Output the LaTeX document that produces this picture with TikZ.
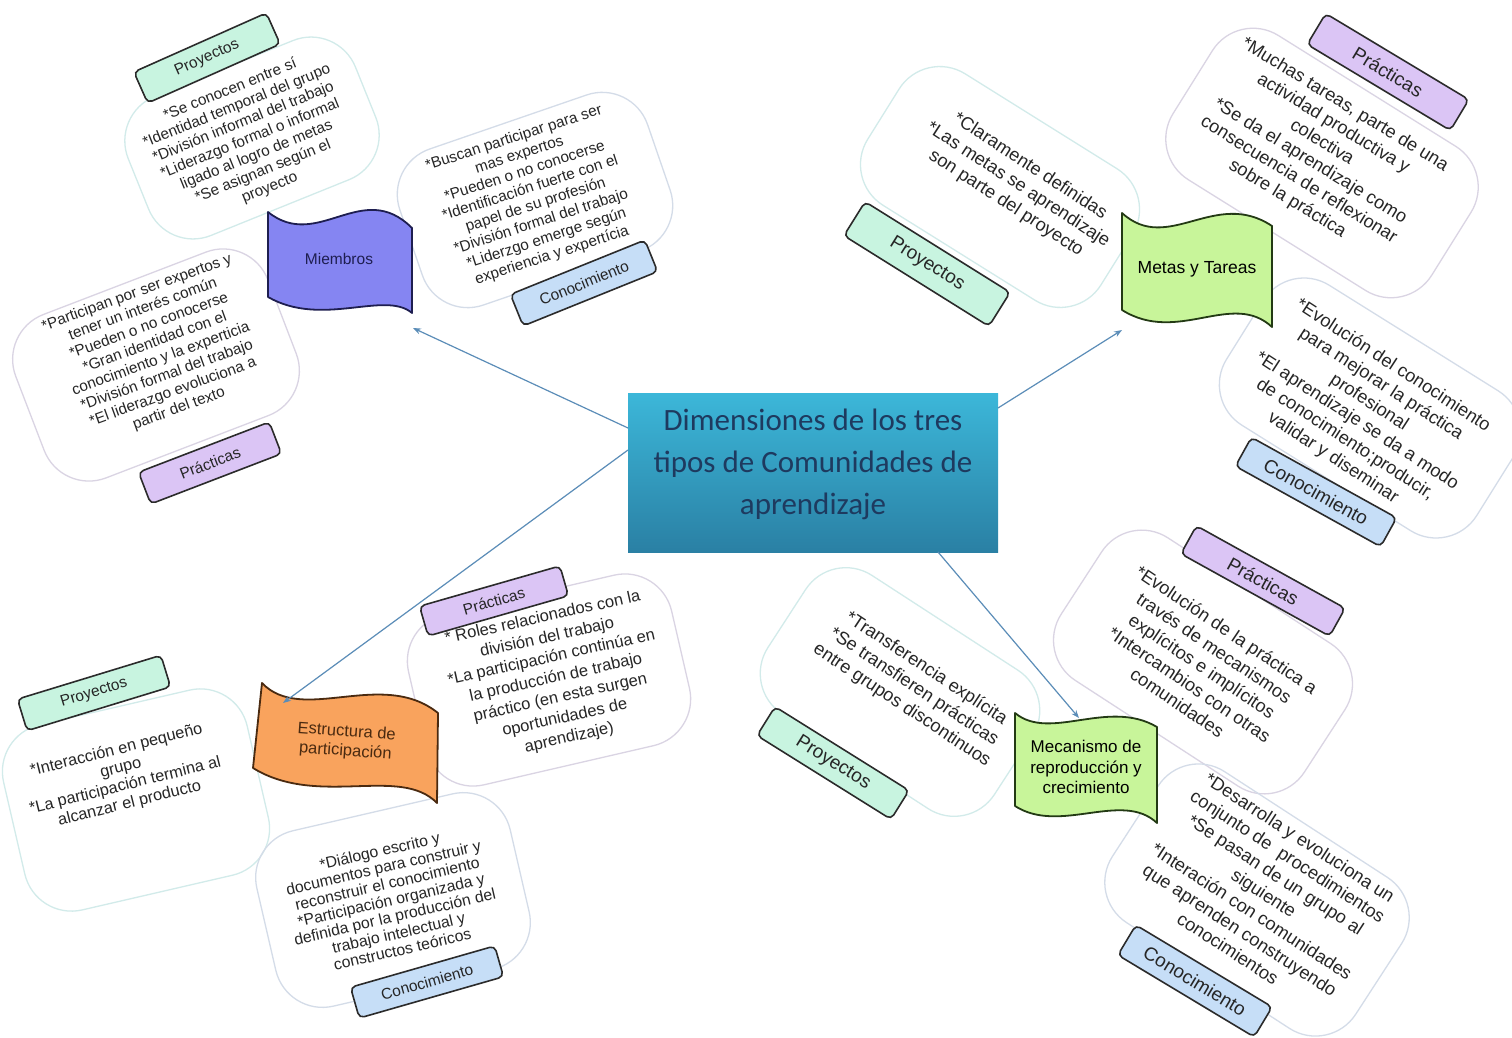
\documentclass[tikz,border=0pt]{standalone}
\usepackage{fontspec}
\setmainfont{Liberation Sans}
\newfontfamily\calibfont{Carlito}
\usetikzlibrary{arrows.meta}
\definecolor{cProy}{HTML}{C8F4E0}
\definecolor{cPrac}{HTML}{DBC5F5}
\definecolor{cCono}{HTML}{C6DEF7}
\definecolor{oProy}{HTML}{D2EBEA}
\definecolor{oPrac}{HTML}{DAD4E3}
\definecolor{oCono}{HTML}{D4DCE8}
\definecolor{cLabDraw}{HTML}{2B2B2B}
\definecolor{cTxt}{HTML}{262626}
\definecolor{cArrow}{HTML}{5B8DB8}
\definecolor{cTitle}{HTML}{1E3A5F}
\definecolor{cBoxTop}{HTML}{3CB7D9}
\definecolor{cBoxBot}{HTML}{2A80A4}
\definecolor{cMiem}{HTML}{8585F2}
\definecolor{cMiemD}{HTML}{1E1E50}
\definecolor{cGreen}{HTML}{C8F59A}
\definecolor{cGreenD}{HTML}{233A14}
\definecolor{cOrange}{HTML}{F9A35D}
\definecolor{cOrangeD}{HTML}{4A2A10}
\newcommand\myfl{\fontsize{15.3}{17.6}\selectfont}
\newcommand\myfb{\fontsize{16.3}{18.3}\selectfont}
\newcommand\myfr{\fontsize{18.2}{22}\selectfont}
\newcommand\myflabl{\fontsize{15.5}{18}\selectfont}
\newcommand\myflabr{\fontsize{19}{22}\selectfont}
\begin{document}
\begin{tikzpicture}[x=1pt,y=-1pt,
  blob/.style={draw, line width=1.3pt, rounded corners=48pt, inner sep=0pt},
  blobP/.style={blob, draw=oProy},
  blobR/.style={blob, draw=oPrac},
  blobC/.style={blob, draw=oCono},
  txtL/.style={align=center, text=cTxt, font=\myfl, inner sep=0pt},
  txtB/.style={align=center, text=cTxt, font=\myfb, inner sep=0pt},
  txtR/.style={align=center, text=cTxt, font=\myfr, inner sep=0pt},
  lab/.style={draw=cLabDraw, line width=1.6pt, rounded corners=5pt, text=cTxt, inner sep=0pt},
  labL/.style={lab, font=\myflabl},
  labR/.style={lab, font=\myflabr},
  flag/.style={line width=1.8pt, line join=round},
  conn/.style={draw=cArrow, line width=1.2pt, -{Stealth[length=8pt,width=6pt]}}
]
\fill[white] (0,0) rectangle (1512,1038);
\useasboundingbox (0,0) rectangle (1512,1038);

% ---------- Miembros cluster ----------
\node[blobP, minimum width=245pt, minimum height=150pt, rotate=22] (b1) at (252,138) {};
\node[txtL, rotate=22] (t1) at (250,139) {*Se conocen entre sí\\*Identidad temporal del grupo\\*División informal del trabajo\\*Liderazgo formal o informal\\ligado al logro de metas\\*Se asignan según el\\proyecto};
\node[blobC, minimum width=262pt, minimum height=165pt, rotate=19] (b2) at (535,200) {};
\node[txtL, rotate=18] (t2) at (533,197) {*Buscan participar para ser\\mas expertos\\*Pueden o no conocerse\\*Identificación fuerte con el\\papel de su profesión\\*División formal del trabajo\\*Liderzgo emerge según\\experiencia y expertícia};
\node[blobR, minimum width=270pt, minimum height=175pt, rotate=21] (b3) at (156,365) {};
\node[txtL, rotate=20] (t3) at (158,351) {*Participan por ser expertos y\\tener un interés común\\*Pueden o no conocerse\\*Gran identidad con el\\conocimiento y la experticia\\*División formal del trabajo\\*El liderazgo evoluciona a\\partir del texto};
\node[labL, fill=cProy, minimum width=145pt, minimum height=34pt, rotate=24] (l1) at (207,58) {Proyectos};
\node[labL, fill=cCono, minimum width=145pt, minimum height=34pt, rotate=22] (l2) at (584,283) {Conocimiento};
\node[labL, fill=cPrac, minimum width=140pt, minimum height=34pt, rotate=21] (l3) at (210,463) {Prácticas};

% ---------- Metas y Tareas cluster ----------
\node[blobP, minimum width=275pt, minimum height=155pt, rotate=-32] (b4) at (1000,187) {};
\node[txtR, rotate=-33] (t4) at (1018,185) {*Claramente definidas\\*Las metas se aprendizaje\\son parte del proyecto};
\node[blobR, minimum width=305pt, minimum height=170pt, rotate=-32] (b5) at (1322,163) {};
\node[txtR, rotate=-31.5] (t5) at (1316,152) {*Muchas tareas, parte de una\\actividad productiva y\\colectiva\\*Se da el aprendizaje como\\consecuencia de reflexionar\\sobre la práctica};
\node[blobC, minimum width=295pt, minimum height=165pt, rotate=-32] (b6) at (1370,408) {};
\node[txtR, rotate=-33] (t6) at (1363,412) {*Evolución del conocimiento\\para mejorar la práctica\\profesional\\*El aprendizaje se da a modo\\de conocimiento;producir,\\validar y diseminar};
\node[labR, fill=cProy, minimum width=171pt, minimum height=40pt, rotate=-32] (l4) at (927,264) {Proyectos};
\node[labR, fill=cPrac, minimum width=167pt, minimum height=36pt, rotate=-31] (l5) at (1388,72) {Prácticas};
\node[labR, fill=cCono, minimum width=166pt, minimum height=33pt, rotate=-29] (l6) at (1316,492) {Conocimiento};

% ---------- Mecanismo cluster ----------
\node[blobR, minimum width=290pt, minimum height=170pt, rotate=-33] (b7) at (1203,662) {};
\node[txtR, rotate=-34] (t7) at (1202,666) {*Evolución de la práctica a\\través de mecanismos\\explícitos e implícitos\\*Intercambios con otras\\comunidades};
\node[blobP, minimum width=270pt, minimum height=165pt, rotate=-33] (b8) at (900,692) {};
\node[txtR, rotate=-33.5] (t8) at (914,687) {*Transferencia explícita\\*Se transfieren prácticas\\entre grupos discontinuos};
\node[blobC, minimum width=290pt, minimum height=180pt, rotate=-33] (b9) at (1257,900) {};
\node[txtR, rotate=-33] (t9) at (1264,893) {*Desarrolla y evoluciona un\\conjunto de\ \ procedimientos\\*Se pasan de un grupo al\\siguiente\\*Interación con comunidades\\que aprenden construyendo\\conocimientos};
\node[labR, fill=cPrac, minimum width=170pt, minimum height=32pt, rotate=-29] (l7) at (1263,581) {Prácticas};
\node[labR, fill=cProy, minimum width=158pt, minimum height=34pt, rotate=-32] (l8) at (833,763) {Proyectos};
\node[labR, fill=cCono, minimum width=159pt, minimum height=35pt, rotate=-31] (l9) at (1195,981) {Conocimiento};

% ---------- Estructura cluster ----------
\node[blobR, minimum width=270pt, minimum height=175pt, rotate=13] (b10) at (549,680) {};
\node[txtB, rotate=12.5, font=\fontsize{16.5}{20.5}\selectfont] (t10) at (556,678) {* Roles relacionados con la\\división del trabajo\\*La participación continúa en\\la producción de trabajo\\práctico (en esta surgen\\oportunidades de\\aprendizaje)};
\node[blobP, minimum width=250pt, minimum height=190pt, rotate=13] (b11) at (136,800) {};
\node[txtB, rotate=14] (t11) at (123,777) {*Interacción en pequeño\\grupo\\*La participación termina al\\alcanzar el producto};
\node[blobC, minimum width=260pt, minimum height=180pt, rotate=13] (b12) at (393,900) {};
\node[txtB, rotate=13, font=\fontsize{15.8}{16.8}\selectfont] (t12) at (391,900) {*Diálogo escrito y\\documentos para construir y\\reconstruir el conocimiento\\*Participación organizada y\\definida por la producción del\\trabajo intelectual y\\constructos teóricos};
\node[labL, fill=cPrac, minimum width=146pt, minimum height=31pt, rotate=16] (l10) at (494,601) {Prácticas};
\node[labL, fill=cProy, minimum width=150pt, minimum height=33pt, rotate=17] (l11) at (94,693) {Proyectos};
\node[labL, fill=cCono, minimum width=150pt, minimum height=32pt, rotate=16] (l12) at (427,982) {Conocimiento};

% ---------- flags ----------
\draw[flag, fill=cMiem, draw=cMiemD] (268,212) .. controls (318,252) and (362,178) .. (412,228) -- (412,313) .. controls (385,290) and (322,328) .. (268,297) -- cycle;
\node[text=cMiemD, font=\fontsize{15.5}{18}\selectfont] (fm) at (339,259) {Miembros};
\draw[flag, fill=cGreen, draw=cGreenD] (1122,213) .. controls (1168,255) and (1215,188) .. (1272,226) -- (1272,327) .. controls (1232,290) and (1178,345) .. (1122,310) -- cycle;
\node[text=black, font=\fontsize{17.5}{20}\selectfont] (fmt) at (1197,269) {Metas y Tareas};
\draw[flag, fill=cOrange, draw=cOrangeD] (262,683) .. controls (302,725) and (382,668) .. (438,713) -- (437,803) .. controls (400,765) and (318,808) .. (253,768) -- cycle;
\node[text=cOrangeD, align=center, rotate=-4, font=\fontsize{16.5}{19.5}\selectfont] (fe) at (346,742) {Estructura de\\participación};
\draw[flag, fill=cGreen, draw=cGreenD] (1015,713) .. controls (1050,742) and (1108,698) .. (1157,727) -- (1157,823) .. controls (1122,790) and (1060,835) .. (1015,806) -- cycle;
\node[text=black, align=center, font=\fontsize{17}{20.5}\selectfont] (fmc) at (1086,767) {Mecanismo de\\reproducción y\\crecimiento};

% ---------- centre ----------
\node[minimum width=370pt, minimum height=159pt, inner sep=0pt, top color=cBoxTop, bottom color=cBoxBot, draw=none] (ctr) at (813,472.5) {};
\node[text=cTitle, align=center, font=\calibfont\fontsize{31}{42}\selectfont] (ttl) at (813,464) {Dimensiones de los tres\\tipos de Comunidades de\\aprendizaje};

% ---------- connectors ----------
\coordinate (s1) at (628,428);
\coordinate (s2) at (998,408);
\coordinate (s3) at (628,450);
\coordinate (s4) at (938,552);
\coordinate (e1) at (413,328);
\coordinate (e2) at (1122,330);
\coordinate (e3) at (283,703);
\coordinate (e4) at (1079,718);
\draw[conn] (s1) -- (e1);
\draw[conn] (s2) -- (e2);
\draw[conn] (s3) -- (e3);
\draw[conn] (s4) -- (e4);
\end{tikzpicture}
\end{document}
